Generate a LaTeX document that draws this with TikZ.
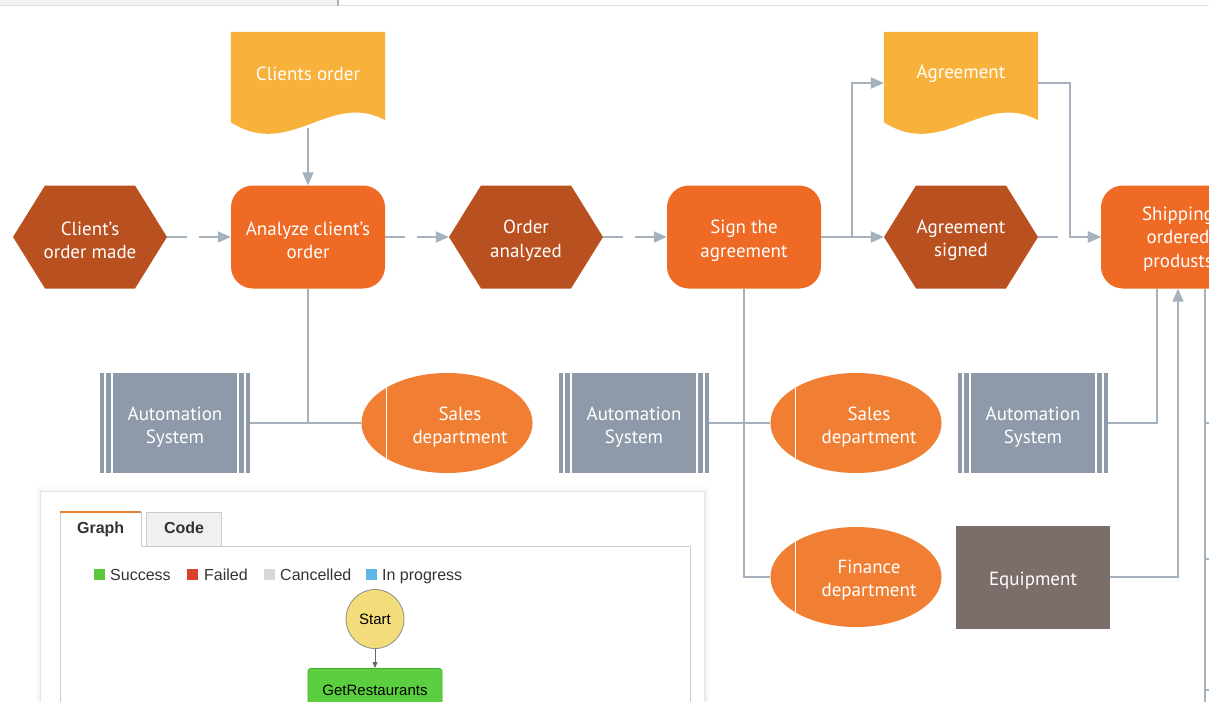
\documentclass[tikz,border=0pt]{standalone}
\usepackage{fontspec}
\setmainfont{PT Sans}
\newfontfamily\uifont{Liberation Sans}
\usetikzlibrary{arrows.meta,shapes.geometric}
\pgfdeclarelayer{background}
\pgfsetlayers{background,main}

\definecolor{docY}{HTML}{F8B13A}
\definecolor{procO}{HTML}{EE6A25}
\definecolor{eventO}{HTML}{B8501F}
\definecolor{deptO}{HTML}{F07E33}
\definecolor{asysG}{HTML}{8E99A9}
\definecolor{equipB}{HTML}{7B6D6A}
\definecolor{lineC}{HTML}{A6B1BE}
\definecolor{tabO}{HTML}{E5802E}
\definecolor{okG}{HTML}{5AC83A}
\definecolor{failR}{HTML}{D9412B}
\definecolor{cancG}{HTML}{D8D8D8}
\definecolor{progB}{HTML}{5BB8E8}
\definecolor{startY}{HTML}{F2DD7A}
\definecolor{runG}{HTML}{5CCF40}
\definecolor{runGd}{HTML}{45A82E}

% move a line of label text by #1 without changing its measured size
\newcommand{\lwr}[2][-3.5pt]{\raisebox{#1}[\height][\depth]{#2}}

% document shape with a wavy lower edge, filled behind a text node
\newcommand{\wavedoc}[1]{%
  \fill[docY] (#1.north west) -- (#1.north east) -- ([yshift=2pt]#1.south east)
    .. controls ([xshift=-55pt,yshift=32pt]#1.south east) and ([xshift=59pt,yshift=-38pt]#1.south west)
    .. (#1.south west) -- cycle;}

\begin{document}
\begin{tikzpicture}[x=1pt,y=-1pt,
  every node/.style={inner sep=0pt},
  lbl/.style={align=center, text=white, font=\fontsize{19}{23.5}\selectfont},
  proc/.style={lbl, rectangle, rounded corners=22pt, fill=procO,
    minimum width=154pt, minimum height=103pt},
  event/.style={lbl, rectangle, minimum width=154pt, minimum height=103pt,
    path picture={\fill[eventO] (path picture bounding box.west)
      -- ([xshift=32pt]path picture bounding box.north west)
      -- ([xshift=-32pt]path picture bounding box.north east)
      -- (path picture bounding box.east)
      -- ([xshift=-32pt]path picture bounding box.south east)
      -- ([xshift=32pt]path picture bounding box.south west) -- cycle;}},
  doc/.style={lbl, rectangle, minimum width=154pt, minimum height=90pt},
  dept/.style={lbl, ellipse, fill=deptO, minimum width=168pt, minimum height=100pt,
    path picture={\draw[white, line width=1.5pt]
      ([xshift=25pt]path picture bounding box.north west) --
      ([xshift=25pt]path picture bounding box.south west);}},
  asys/.style={lbl, rectangle, fill=asysG, minimum width=150pt, minimum height=100pt,
    path picture={\foreach \d in {5,12}{
      \draw[white, line width=1.8pt] ([xshift=\d pt]path picture bounding box.north west)
        -- ([xshift=\d pt]path picture bounding box.south west);
      \draw[white, line width=1.8pt] ([xshift=-\d pt]path picture bounding box.north east)
        -- ([xshift=-\d pt]path picture bounding box.south east);}}},
  equip/.style={lbl, rectangle, fill=equipB, minimum width=154pt, minimum height=103pt},
  link/.style={draw=lineC, line width=1.8pt},
  arr/.style={link, -{Triangle[length=13pt,width=11pt]}},
  dlink/.style={arr, dash pattern=on 20pt off 12pt},
  ui/.style={font=\uifont\fontsize{16}{19}\selectfont, text=black!80},
  uib/.style={font=\uifont\bfseries\fontsize{16}{19}\selectfont, text=black!80,
    text height=11.5pt, text depth=3.5pt},
  key/.style={minimum size=11pt}
]
\useasboundingbox (0,0) rectangle (1209,701);
\clip (0,0) rectangle (1209,701);

% ---------- process chain ----------
\node[doc]   (co)  at (308,77)  {\lwr[3pt]{Clients order}};
\node[doc]   (ag)  at (961,77)  {\lwr[3pt]{Agreement}};
\node[event] (ev1) at (90,237)  {\lwr{Client's}\\\lwr{order made}};
\node[proc]  (an)  at (308,237) {\lwr{Analyze client's}\\\lwr{order}};
\node[event] (ev2) at (526,237) {\lwr{Order}\\\lwr{analyzed}};
\node[proc]  (sa)  at (744,237) {\lwr{Sign the}\\\lwr{agreement}};
\node[event] (as)  at (961,237) {\lwr{Agreement}\\\lwr{signed}};
\node[proc]  (sh)  at (1178,237) {\lwr[-2pt]{Shipping}\\\lwr[-2pt]{ordered}\\\lwr[-2pt]{produsts}};

% ---------- resources ----------
\node[asys]  (as1) at (175,423) {\lwr[-4pt]{Automation}\\\lwr[-4pt]{System}};
\node[dept]  (sd1) at (447,423) {\hspace*{26pt}\lwr[-4pt]{Sales}\\\hspace*{26pt}\lwr[-4pt]{department}};
\node[asys]  (as2) at (634,423) {\lwr[-4pt]{Automation}\\\lwr[-4pt]{System}};
\node[dept]  (sd2) at (856,423) {\hspace*{26pt}\lwr[-4pt]{Sales}\\\hspace*{26pt}\lwr[-4pt]{department}};
\node[asys]  (as3) at (1033,423) {\lwr[-4pt]{Automation}\\\lwr[-4pt]{System}};
\node[dept]  (fd)  at (856,577) {\hspace*{26pt}\lwr[-3pt]{Finance}\\\hspace*{26pt}\lwr[-3pt]{department}};
\node[equip] (eq)  at (1033,577) {\lwr[-4pt]{Equipment}};

% ---------- inset window ----------
\node[fill=white, minimum width=663pt, minimum height=260pt, anchor=north west] (pn) at (41,492) {};
\node[draw=black!20, line width=1pt, minimum width=630pt, minimum height=214pt, anchor=north west] (fr) at (60,546) {};
\node[fill=white, minimum width=81pt, minimum height=35pt, anchor=north west, uib] (tg) at (60,512) {Graph};
\draw[black!20, line width=1pt] (tg.south west) -- (tg.north west) -- (tg.north east) -- (tg.south east);
\draw[tabO, line width=2.5pt] (tg.north west) -- (tg.north east);
\node[fill=black!6, draw=black!20, line width=1pt, minimum width=75pt, minimum height=34pt, anchor=north west, uib] (tc) at (146,512) {Code};

\node[key, fill=okG]   (k1) at (99.5,574.5)  {};
\node[ui, anchor=base west] (t1) at (110,580) {Success};
\node[key, fill=failR] (k2) at (192.5,574.5) {};
\node[ui, anchor=base west] (t2) at (204,580) {Failed};
\node[key, fill=cancG] (k3) at (269,574.5) {};
\node[ui, anchor=base west] (t3) at (280,580) {Cancelled};
\node[key, fill=progB] (k4) at (371.5,574.5) {};
\node[ui, anchor=base west] (t4) at (382,580) {In progress};

\node[ellipse, fill=startY, draw=black!45, line width=0.8pt, minimum width=58pt, minimum height=59pt,
      font=\uifont\fontsize{15}{18}\selectfont] (st) at (375,619) {Start};
\node[rectangle, rounded corners=3pt, fill=runG, draw=runGd, line width=0.8pt, minimum width=134pt,
      minimum height=44pt, anchor=north, font=\uifont\fontsize{15}{18}\selectfont] (gr) at (375,668) {GetRestaurants};
\draw[black!60, line width=0.8pt, -{Triangle[length=6pt,width=5pt]}] (st) -- (gr);

% ---------- background: page, window shadow, document shapes ----------
\begin{pgfonlayer}{background}
  \fill[white] (0,0) rectangle (1209,701);
  \fill[black!5] (0,0) rectangle (337,5);
  \draw[black!12, line width=1pt] (0,5.5) -- (1209,5.5);
  \draw[black!30, line width=1.5pt] (338,0) -- (338,6);
  \draw[black!2, line width=10pt] (pn.north west) rectangle (pn.south east);
  \draw[black!5, line width=5pt] (pn.north west) rectangle (pn.south east);
  \draw[black!10, line width=1.5pt] (pn.north west) rectangle (pn.south east);
  \wavedoc{co}
  \wavedoc{ag}
\end{pgfonlayer}

% ---------- connectors ----------
\draw[arr] ([yshift=-6pt]co.south) -- (an.north);
\draw[dlink] (ev1.east) -- (an.west);
\draw[dlink] (an.east) -- (ev2.west);
\draw[dlink] (ev2.east) -- (sa.west);
\draw[arr] (sa.east) -- ++(31,0) |- ([yshift=-6pt]ag.west);
\draw[arr] (sa.east) -- (as.west);
\draw[dlink] (as.east) -- (sh.west);
\draw[arr] ([yshift=-6pt]ag.east) -- ++(32,0) |- (sh.west);

\draw[link] (an.south) -- (an.south |- as1.east);
\draw[link] (as1.east) -- (sd1.west);
\draw[link] (sa.south) |- (fd.west);
\draw[link] (as2.east) -- (sd2.west);
\draw[link] (as3.east) -| ([xshift=-21pt]sh.south);
\draw[arr] (eq.east) -| (sh.south);

\coordinate (rr) at ([xshift=27pt]sh.south);
\coordinate (bot) at (0,705);
\draw[link] (rr) -- (rr |- bot);
\draw[link] (rr |- as3.east) -- ++(8,0);
\draw[link] (rr |- 0,559) -- ++(8,0);
\draw[link] (rr |- 0,690) -- ++(8,0);
\end{tikzpicture}
\end{document}
